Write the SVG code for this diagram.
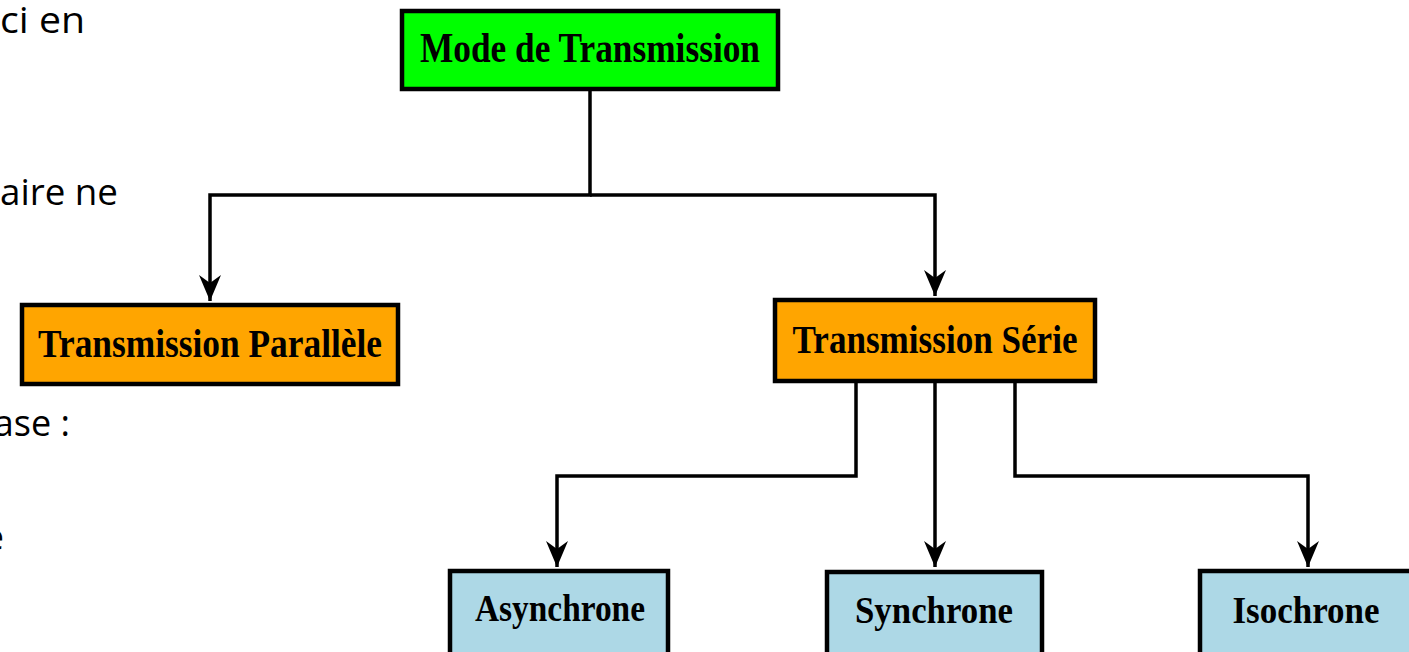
<svg xmlns="http://www.w3.org/2000/svg" width="1409" height="652" viewBox="0 0 1409 652">
<style>
.box{stroke:#000;stroke-width:4.5}
.lbl{font-family:"Liberation Serif","Times New Roman",serif;font-weight:bold;fill:#000;text-anchor:middle}
.bg{font-family:"Open Sans","Noto Sans",sans-serif;font-size:36px;fill:#000}
.conn{fill:none;stroke:#000;stroke-width:3.5}
</style>
<defs>
<marker id="arr" viewBox="0 -11 26 22" markerWidth="26" markerHeight="22" refX="26" refY="0" orient="auto" markerUnits="userSpaceOnUse">
<path d="M0,-11 L26,0 L0,11 L8,0 z" fill="#000"/>
</marker>
</defs>
<rect width="1409" height="652" fill="#fff"/>
<g id="background-text">
<text class="bg" x="0" y="33" textLength="85" lengthAdjust="spacingAndGlyphs">ci en</text>
<text class="bg" x="0" y="205" textLength="118" lengthAdjust="spacingAndGlyphs">aire ne</text>
<text class="bg" x="70" y="436" text-anchor="end">ase :</text>
<text class="bg" x="4" y="550" text-anchor="end">e</text>
</g>
<g id="connectors">
<path class="conn" d="M590,90 V195 H210 V301" marker-end="url(#arr)"/>
<path class="conn" d="M590,195 H935 V296" marker-end="url(#arr)"/>
<path class="conn" d="M856,382 V476 H557 V567" marker-end="url(#arr)"/>
<path class="conn" d="M935,382 V567" marker-end="url(#arr)"/>
<path class="conn" d="M1015,382 V476 H1308 V567" marker-end="url(#arr)"/>
</g>
<g id="mode">
<rect class="box" x="402" y="11" width="376" height="78" fill="#00FF00"/>
<text class="lbl" x="590" y="62" font-size="42" textLength="340" lengthAdjust="spacingAndGlyphs">Mode de Transmission</text>
</g>
<g id="parallele">
<rect class="box" x="22" y="305" width="376" height="79" fill="#FFA500"/>
<text class="lbl" x="210" y="357" font-size="40" textLength="344" lengthAdjust="spacingAndGlyphs">Transmission Parallèle</text>
</g>
<g id="serie">
<rect class="box" x="775" y="300" width="320" height="81" fill="#FFA500"/>
<text class="lbl" x="935" y="353" font-size="40" textLength="285" lengthAdjust="spacingAndGlyphs">Transmission Série</text>
</g>
<g id="asynchrone">
<rect class="box" x="450" y="571" width="218" height="90" fill="#ADD8E6"/>
<text class="lbl" x="560" y="621" font-size="37" textLength="170" lengthAdjust="spacingAndGlyphs">Asynchrone</text>
</g>
<g id="synchrone">
<rect class="box" x="827" y="572" width="215" height="90" fill="#ADD8E6"/>
<text class="lbl" x="934" y="623" font-size="37" textLength="158" lengthAdjust="spacingAndGlyphs">Synchrone</text>
</g>
<g id="isochrone">
<rect class="box" x="1200" y="571" width="220" height="90" fill="#ADD8E6"/>
<text class="lbl" x="1306" y="623" font-size="37" textLength="147" lengthAdjust="spacingAndGlyphs">Isochrone</text>
</g>
</svg>
